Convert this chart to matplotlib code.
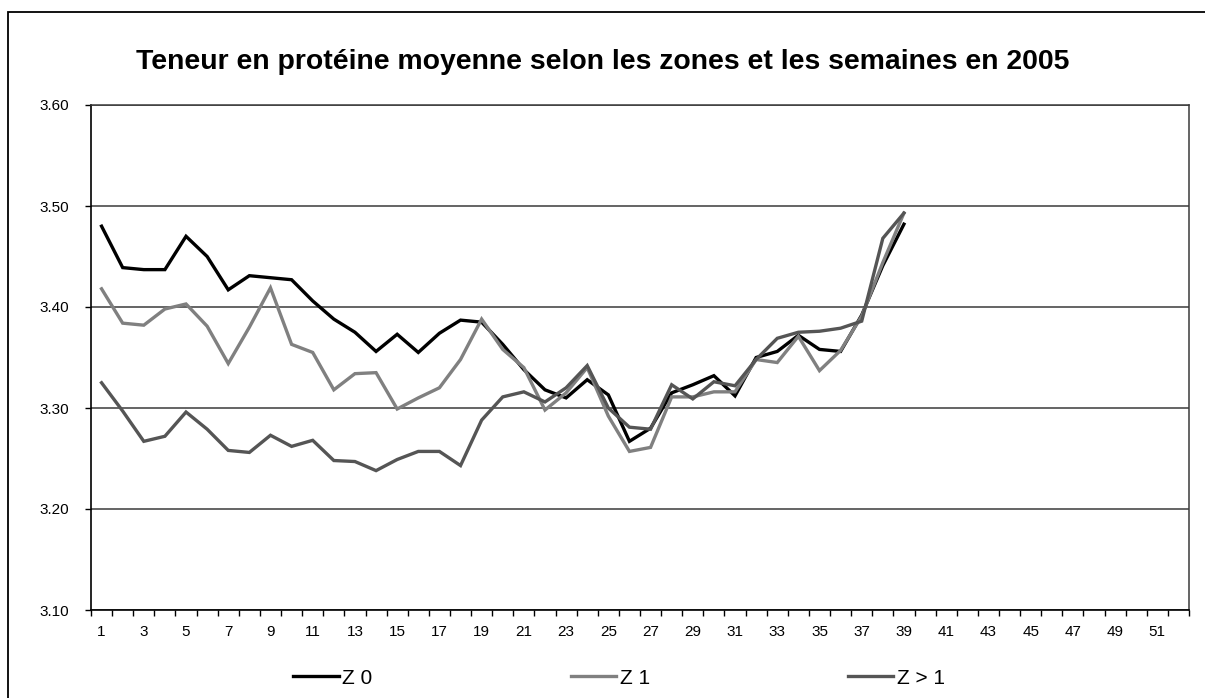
import matplotlib
matplotlib.use("Agg")
import matplotlib.pyplot as plt
from matplotlib.patches import Rectangle
from matplotlib.ticker import FixedLocator, FormatStrFormatter
import numpy as np

plt.rcParams['font.family'] = ['Liberation Sans', 'DejaVu Sans']

# weeks 1..39 of 2005, x axis holds 52 weeks
weeks = list(range(1, 40))
n_weeks = 52

z0 = [3.480, 3.439, 3.437, 3.437, 3.470, 3.450, 3.417, 3.431, 3.429, 3.427,
      3.406, 3.388, 3.375, 3.356, 3.373, 3.355, 3.374, 3.387, 3.385, 3.363,
      3.338, 3.318, 3.310, 3.328, 3.313, 3.267, 3.280, 3.315, 3.323, 3.332,
      3.312, 3.350, 3.356, 3.372, 3.358, 3.356, 3.392, 3.441, 3.482]
z1 = [3.418, 3.384, 3.382, 3.398, 3.403, 3.381, 3.344, 3.380, 3.419, 3.363,
      3.355, 3.318, 3.334, 3.335, 3.299, 3.310, 3.320, 3.348, 3.388, 3.358,
      3.340, 3.298, 3.315, 3.340, 3.292, 3.257, 3.261, 3.311, 3.311, 3.316,
      3.316, 3.348, 3.345, 3.371, 3.337, 3.357, 3.391, 3.444, 3.493]
z2 = [3.325, 3.297, 3.267, 3.272, 3.296, 3.279, 3.258, 3.256, 3.273, 3.262,
      3.268, 3.248, 3.247, 3.238, 3.249, 3.257, 3.257, 3.243, 3.288, 3.311,
      3.316, 3.306, 3.320, 3.342, 3.300, 3.281, 3.279, 3.323, 3.309, 3.326,
      3.322, 3.348, 3.369, 3.375, 3.376, 3.379, 3.386, 3.468, 3.493]

labels = ['Z 0', 'Z 1', 'Z > 1']
colors = ['#000000', '#808080', '#555555']
yticks = [3.10, 3.20, 3.30, 3.40, 3.50, 3.60]

W, H = 1205, 698
fig = plt.figure(figsize=(W / 100, H / 100), dpi=100)
ax = fig.add_axes([91 / W, 1 - 610 / H, (1189 - 91) / W, (610 - 105) / H])

for y, lab, c in zip([z0, z1, z2], labels, colors):
    ax.plot(weeks, y, color=c, lw=2.4, label=lab, solid_joinstyle='miter')

ax.set_xlim(0.5, n_weeks + 0.5)
ax.set_ylim(3.10, 3.60)
ax.set_yticks(yticks)
ax.yaxis.set_major_formatter(FormatStrFormatter('%.2f'))
ax.grid(axis='y', color='#3a3a3a', lw=1.1)
ax.set_axisbelow(True)

ax.xaxis.set_major_locator(FixedLocator(np.arange(1, n_weeks + 1, 2)))
ax.xaxis.set_minor_locator(FixedLocator(np.arange(0.5, n_weeks + 1, 1)))
ax.tick_params(axis='x', which='major', length=0, pad=11, labelsize=11)
ax.tick_params(axis='x', which='minor', length=4, width=1, color='black')
ax.tick_params(axis='y', length=4, width=1, pad=12, labelsize=11)

for s in ['left', 'bottom']:
    ax.spines[s].set_color('black')
    ax.spines[s].set_linewidth(1.2)
for s in ['top', 'right']:
    ax.spines[s].set_color('#3a3a3a')
    ax.spines[s].set_linewidth(1.1)

fig.text(0.5, 1 - 62 / H, 'Teneur en protéine moyenne selon les zones et les semaines en 2005',
         ha='center', va='center', fontsize=20.4, fontweight='bold')

fig.legend(loc='center', bbox_to_anchor=(619 / W, 1 - 678 / H), ncol=3, frameon=False,
           fontsize=15, handlelength=2.2, handletextpad=0.15, columnspacing=9.5,
           borderpad=0, borderaxespad=0)

# outer chart border (left and top edges visible)
fig.add_artist(Rectangle((8 / W, -0.2), 1.2, 1.2 - 12 / H, transform=fig.transFigure,
                         fill=False, lw=1.3, edgecolor='black'))

fig.savefig('out.png', dpi=100)
